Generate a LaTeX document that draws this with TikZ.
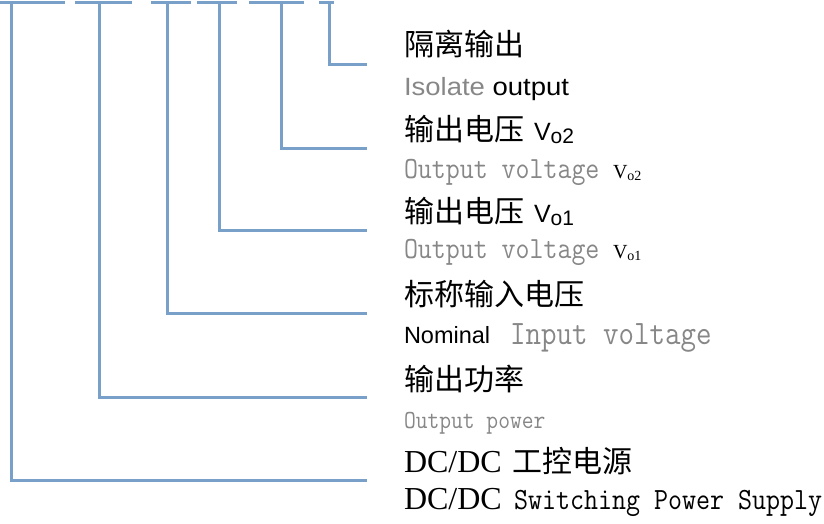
\documentclass[tikz,border=0pt]{standalone}
\usepackage{graphicx}
\usepackage{fontspec}
\newfontfamily\cjk{Noto Sans CJK SC}
\newfontfamily\arialf{Liberation Sans}
\newfontfamily\tnrf{Liberation Serif}
\definecolor{lineblue}{RGB}{120,160,200}
\definecolor{txtgray}{RGB}{135,135,135}
\newcommand\monotxt[2]{\scalebox{0.88}[1]{\fontsize{#1}{#1}\selectfont\ttfamily #2}}
\newcommand\cn[1]{{\fontsize{30}{30}\selectfont\cjk #1}}
\newcommand\bigV[1]{{\fontsize{25}{25}\selectfont\arialf V\raisebox{-3pt}{\fontsize{21}{21}\selectfont o#1}}}
\newcommand\smallV[1]{{\fontsize{20}{20}\selectfont\tnrf V\raisebox{-2pt}{\fontsize{14}{14}\selectfont o#1}}}
\begin{document}
\begin{tikzpicture}[x=1pt,y=-1pt,
  conn/.style={draw=lineblue, line width=3pt, line join=miter},
  lbl/.style={inner sep=0pt, outer sep=0pt, anchor=base west}]
\useasboundingbox (0,0) rectangle (824,523);
% top dashes
\foreach \a/\b in {0/65,75/132,151/191,197/237,249/304,319/334}
  \draw[conn] (\a,2) -- (\b,2);
% connector coordinates
\coordinate (t1) at (11,2);   \coordinate (e1) at (367,480);
\coordinate (t2) at (99,2);   \coordinate (e2) at (367,397);
\coordinate (t3) at (167,2);  \coordinate (e3) at (367,313);
\coordinate (t4) at (219,2);  \coordinate (e4) at (367,230);
\coordinate (t5) at (281,2);  \coordinate (e5) at (367,148);
\coordinate (t6) at (329,2);  \coordinate (e6) at (367,64);
\foreach \i in {1,...,6} \draw[conn] (t\i) |- (e\i);
% labels
\node[lbl] (l1) at (404,55) {\cn{隔离输出}};
\node[lbl] (l2) at (404,95) {\scalebox{1.1}[1]{\fontsize{25}{25}\selectfont\arialf\textcolor{txtgray}{Isolate} output}};
\node[lbl] (l3) at (404,140) {\cn{输出电压}\hspace{10pt}\bigV{2}};
\node[lbl] (l4) at (404,178) {\textcolor{txtgray}{\monotxt{30.8}{Output voltage}}};
\node[lbl] (l4v) at (613,178) {\smallV{2}};
\node[lbl] (l5) at (404,222) {\cn{输出电压}\hspace{10pt}\bigV{1}};
\node[lbl] (l6) at (404,258) {\textcolor{txtgray}{\monotxt{30.8}{Output voltage}}};
\node[lbl] (l6v) at (613,258) {\smallV{1}};
\node[lbl] (l7) at (404,305) {\cn{标称输入电压}};
\node[lbl] (l8) at (404,343) {\fontsize{23.5}{24}\selectfont\arialf Nominal};
\node[lbl] (l8b) at (510,344) {\textcolor{txtgray}{\monotxt{34.2}{Input voltage}}};
\node[lbl] (l9) at (404,390) {\cn{输出功率}};
\node[lbl] (l10) at (404,428) {\textcolor{txtgray}{\monotxt{26}{Output power}}};
\node[lbl] (l11) at (404,472) {\fontsize{32}{32}\selectfont\tnrf DC/DC};
\node[lbl] (l11b) at (512,472) {\cn{工控电源}};
\node[lbl] (l12) at (404,509) {\fontsize{32}{32}\selectfont\tnrf DC/DC};
\node[lbl] (l12b) at (514,509) {\monotxt{30.9}{Switching Power Supply}};
\end{tikzpicture}
\end{document}
